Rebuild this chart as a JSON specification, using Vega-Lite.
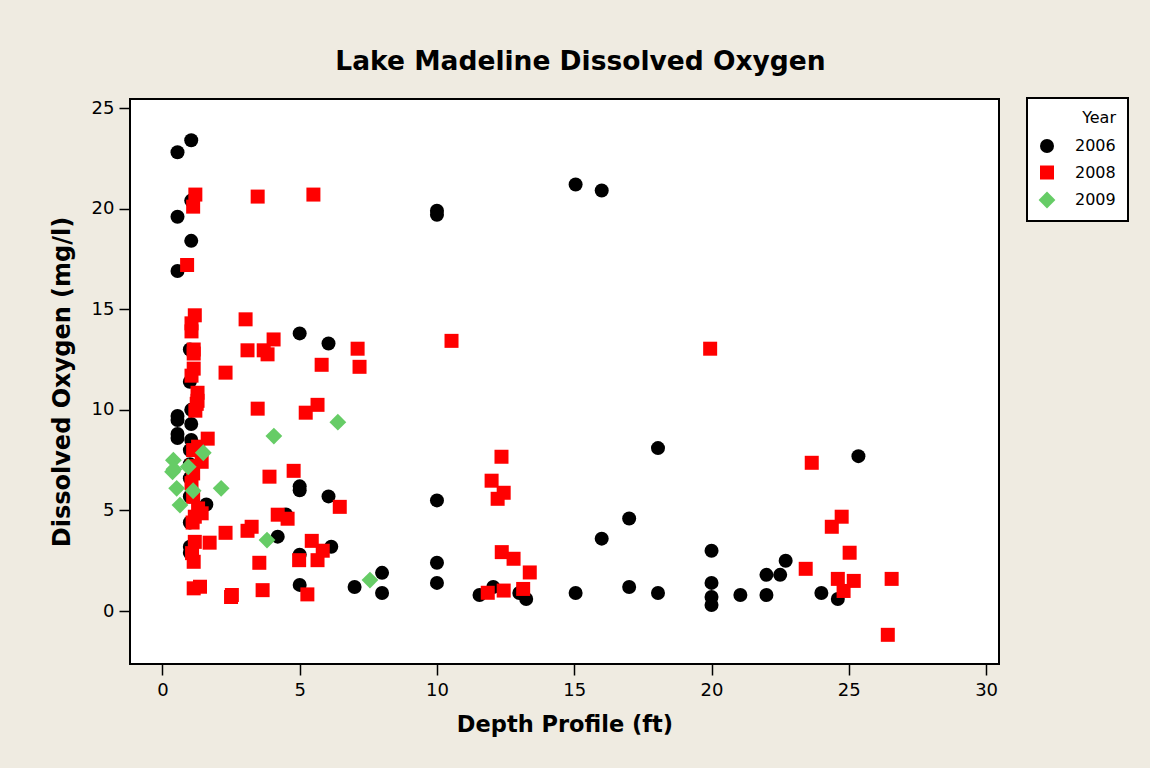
{
  "$schema": "https://vega.github.io/schema/vega-lite/v6.json",
  "autosize": {"type": "none"},
  "padding": {"left": 130, "top": 99, "right": 151, "bottom": 104},
  "width": 869,
  "height": 565,
  "background": "#efebe1",
  "title": {
    "text": "Lake Madeline Dissolved Oxygen",
    "font": "DejaVu Sans",
    "fontSize": 26.5,
    "fontWeight": "bold",
    "color": "black",
    "anchor": "middle",
    "offset": 22,
    "dx": 16
  },
  "data": {
    "values": [
      {"Year": "2006", "Depth": 1.05, "DO": 23.4},
      {"Year": "2006", "Depth": 0.55, "DO": 22.8},
      {"Year": "2006", "Depth": 1.05, "DO": 20.4},
      {"Year": "2006", "Depth": 0.55, "DO": 19.6},
      {"Year": "2006", "Depth": 1.05, "DO": 18.4},
      {"Year": "2006", "Depth": 0.55, "DO": 16.9},
      {"Year": "2006", "Depth": 1.0, "DO": 13.0},
      {"Year": "2006", "Depth": 1.0, "DO": 11.4},
      {"Year": "2006", "Depth": 1.05, "DO": 10.0},
      {"Year": "2006", "Depth": 0.55, "DO": 9.7},
      {"Year": "2006", "Depth": 0.55, "DO": 9.5},
      {"Year": "2006", "Depth": 1.05, "DO": 9.3},
      {"Year": "2006", "Depth": 0.55, "DO": 8.8},
      {"Year": "2006", "Depth": 0.55, "DO": 8.6},
      {"Year": "2006", "Depth": 1.05, "DO": 8.5},
      {"Year": "2006", "Depth": 1.0, "DO": 8.0},
      {"Year": "2006", "Depth": 1.0, "DO": 7.3},
      {"Year": "2006", "Depth": 1.0, "DO": 6.6},
      {"Year": "2006", "Depth": 1.0, "DO": 5.7},
      {"Year": "2006", "Depth": 1.6, "DO": 5.3},
      {"Year": "2006", "Depth": 1.0, "DO": 4.4},
      {"Year": "2006", "Depth": 1.0, "DO": 3.2},
      {"Year": "2006", "Depth": 1.0, "DO": 2.9},
      {"Year": "2006", "Depth": 5.0, "DO": 13.8},
      {"Year": "2006", "Depth": 6.05, "DO": 13.3},
      {"Year": "2006", "Depth": 5.0, "DO": 6.2},
      {"Year": "2006", "Depth": 5.0, "DO": 6.0},
      {"Year": "2006", "Depth": 6.05, "DO": 5.7},
      {"Year": "2006", "Depth": 4.5, "DO": 4.8},
      {"Year": "2006", "Depth": 4.2, "DO": 3.7},
      {"Year": "2006", "Depth": 6.15, "DO": 3.2},
      {"Year": "2006", "Depth": 5.0, "DO": 2.8},
      {"Year": "2006", "Depth": 5.0, "DO": 1.3},
      {"Year": "2006", "Depth": 7.0, "DO": 1.2},
      {"Year": "2006", "Depth": 8.0, "DO": 1.9},
      {"Year": "2006", "Depth": 8.0, "DO": 0.9},
      {"Year": "2006", "Depth": 10.0, "DO": 19.9},
      {"Year": "2006", "Depth": 10.0, "DO": 19.7},
      {"Year": "2006", "Depth": 15.05, "DO": 21.2},
      {"Year": "2006", "Depth": 16.0, "DO": 20.9},
      {"Year": "2006", "Depth": 10.0, "DO": 5.5},
      {"Year": "2006", "Depth": 18.05, "DO": 8.1},
      {"Year": "2006", "Depth": 17.0, "DO": 4.6},
      {"Year": "2006", "Depth": 16.0, "DO": 3.6},
      {"Year": "2006", "Depth": 10.0, "DO": 2.4},
      {"Year": "2006", "Depth": 10.0, "DO": 1.4},
      {"Year": "2006", "Depth": 11.55, "DO": 0.8},
      {"Year": "2006", "Depth": 12.05, "DO": 1.2},
      {"Year": "2006", "Depth": 13.0, "DO": 0.9},
      {"Year": "2006", "Depth": 13.25, "DO": 0.6},
      {"Year": "2006", "Depth": 15.05, "DO": 0.9},
      {"Year": "2006", "Depth": 17.0, "DO": 1.2},
      {"Year": "2006", "Depth": 18.05, "DO": 0.9},
      {"Year": "2006", "Depth": 20.0, "DO": 3.0},
      {"Year": "2006", "Depth": 20.0, "DO": 1.4},
      {"Year": "2006", "Depth": 20.0, "DO": 0.7},
      {"Year": "2006", "Depth": 20.0, "DO": 0.3},
      {"Year": "2006", "Depth": 21.05, "DO": 0.8},
      {"Year": "2006", "Depth": 22.0, "DO": 1.8},
      {"Year": "2006", "Depth": 22.0, "DO": 0.8},
      {"Year": "2006", "Depth": 22.5, "DO": 1.8},
      {"Year": "2006", "Depth": 22.7, "DO": 2.5},
      {"Year": "2006", "Depth": 24.0, "DO": 0.9},
      {"Year": "2006", "Depth": 24.6, "DO": 0.6},
      {"Year": "2006", "Depth": 25.35, "DO": 7.7},
      {"Year": "2008", "Depth": 1.2, "DO": 20.7},
      {"Year": "2008", "Depth": 1.12, "DO": 20.1},
      {"Year": "2008", "Depth": 3.47, "DO": 20.6},
      {"Year": "2008", "Depth": 5.5, "DO": 20.7},
      {"Year": "2008", "Depth": 0.9, "DO": 17.2},
      {"Year": "2008", "Depth": 1.18, "DO": 14.7},
      {"Year": "2008", "Depth": 1.06, "DO": 14.3},
      {"Year": "2008", "Depth": 1.06, "DO": 13.9},
      {"Year": "2008", "Depth": 3.03, "DO": 14.5},
      {"Year": "2008", "Depth": 4.05, "DO": 13.5},
      {"Year": "2008", "Depth": 3.1, "DO": 12.96},
      {"Year": "2008", "Depth": 3.69, "DO": 12.96},
      {"Year": "2008", "Depth": 3.83, "DO": 12.76},
      {"Year": "2008", "Depth": 7.11, "DO": 13.04},
      {"Year": "2008", "Depth": 7.18, "DO": 12.14},
      {"Year": "2008", "Depth": 5.8, "DO": 12.24},
      {"Year": "2008", "Depth": 1.14, "DO": 13.0},
      {"Year": "2008", "Depth": 1.14, "DO": 12.8},
      {"Year": "2008", "Depth": 2.3, "DO": 11.85},
      {"Year": "2008", "Depth": 1.14, "DO": 12.05},
      {"Year": "2008", "Depth": 1.06, "DO": 11.7},
      {"Year": "2008", "Depth": 1.28, "DO": 10.85},
      {"Year": "2008", "Depth": 1.28, "DO": 10.45},
      {"Year": "2008", "Depth": 1.25, "DO": 10.3},
      {"Year": "2008", "Depth": 1.2, "DO": 9.96},
      {"Year": "2008", "Depth": 3.47, "DO": 10.06},
      {"Year": "2008", "Depth": 5.22, "DO": 9.86},
      {"Year": "2008", "Depth": 5.65, "DO": 10.25},
      {"Year": "2008", "Depth": 1.65, "DO": 8.57},
      {"Year": "2008", "Depth": 1.3, "DO": 8.17},
      {"Year": "2008", "Depth": 1.12, "DO": 8.0},
      {"Year": "2008", "Depth": 1.43, "DO": 7.42},
      {"Year": "2008", "Depth": 1.1, "DO": 7.2},
      {"Year": "2008", "Depth": 1.12, "DO": 6.84},
      {"Year": "2008", "Depth": 1.06, "DO": 6.36},
      {"Year": "2008", "Depth": 1.12, "DO": 5.68},
      {"Year": "2008", "Depth": 1.3, "DO": 5.1},
      {"Year": "2008", "Depth": 1.43, "DO": 4.86},
      {"Year": "2008", "Depth": 1.18, "DO": 4.69},
      {"Year": "2008", "Depth": 1.1, "DO": 4.4},
      {"Year": "2008", "Depth": 1.18, "DO": 3.44},
      {"Year": "2008", "Depth": 1.08, "DO": 2.88},
      {"Year": "2008", "Depth": 1.14, "DO": 2.45},
      {"Year": "2008", "Depth": 1.37, "DO": 1.21},
      {"Year": "2008", "Depth": 1.14, "DO": 1.13},
      {"Year": "2008", "Depth": 3.9, "DO": 6.68},
      {"Year": "2008", "Depth": 4.78, "DO": 6.97},
      {"Year": "2008", "Depth": 6.46, "DO": 5.18},
      {"Year": "2008", "Depth": 4.2, "DO": 4.79},
      {"Year": "2008", "Depth": 4.56, "DO": 4.59},
      {"Year": "2008", "Depth": 3.25, "DO": 4.19},
      {"Year": "2008", "Depth": 3.1, "DO": 3.99},
      {"Year": "2008", "Depth": 2.3, "DO": 3.89},
      {"Year": "2008", "Depth": 1.72, "DO": 3.4},
      {"Year": "2008", "Depth": 5.44, "DO": 3.49},
      {"Year": "2008", "Depth": 5.84, "DO": 3.0},
      {"Year": "2008", "Depth": 3.53, "DO": 2.4},
      {"Year": "2008", "Depth": 4.98, "DO": 2.53},
      {"Year": "2008", "Depth": 5.65, "DO": 2.53},
      {"Year": "2008", "Depth": 3.65, "DO": 1.04},
      {"Year": "2008", "Depth": 5.28, "DO": 0.83},
      {"Year": "2008", "Depth": 2.53, "DO": 0.8},
      {"Year": "2008", "Depth": 2.5, "DO": 0.7},
      {"Year": "2008", "Depth": 10.53, "DO": 13.43},
      {"Year": "2008", "Depth": 19.95, "DO": 13.04},
      {"Year": "2008", "Depth": 12.35, "DO": 7.67},
      {"Year": "2008", "Depth": 11.99, "DO": 6.48},
      {"Year": "2008", "Depth": 12.43, "DO": 5.88},
      {"Year": "2008", "Depth": 12.21, "DO": 5.58},
      {"Year": "2008", "Depth": 12.36, "DO": 2.93},
      {"Year": "2008", "Depth": 12.79, "DO": 2.6},
      {"Year": "2008", "Depth": 13.38, "DO": 1.92},
      {"Year": "2008", "Depth": 13.14, "DO": 1.1},
      {"Year": "2008", "Depth": 12.43, "DO": 1.02},
      {"Year": "2008", "Depth": 11.85, "DO": 0.91},
      {"Year": "2008", "Depth": 23.65, "DO": 7.37},
      {"Year": "2008", "Depth": 24.74, "DO": 4.69},
      {"Year": "2008", "Depth": 24.38, "DO": 4.19},
      {"Year": "2008", "Depth": 25.03, "DO": 2.9},
      {"Year": "2008", "Depth": 23.43, "DO": 2.1},
      {"Year": "2008", "Depth": 24.6, "DO": 1.6},
      {"Year": "2008", "Depth": 25.18, "DO": 1.5},
      {"Year": "2008", "Depth": 26.56, "DO": 1.6},
      {"Year": "2008", "Depth": 24.81, "DO": 1.0},
      {"Year": "2008", "Depth": 26.42, "DO": -1.18},
      {"Year": "2009", "Depth": 0.4, "DO": 7.5},
      {"Year": "2009", "Depth": 0.37, "DO": 6.92},
      {"Year": "2009", "Depth": 0.42, "DO": 7.05},
      {"Year": "2009", "Depth": 0.94, "DO": 7.17},
      {"Year": "2009", "Depth": 1.49, "DO": 7.87},
      {"Year": "2009", "Depth": 0.52, "DO": 6.1},
      {"Year": "2009", "Depth": 1.12, "DO": 5.98},
      {"Year": "2009", "Depth": 0.64, "DO": 5.27},
      {"Year": "2009", "Depth": 2.14, "DO": 6.1},
      {"Year": "2009", "Depth": 4.06, "DO": 8.7},
      {"Year": "2009", "Depth": 6.39, "DO": 9.39},
      {"Year": "2009", "Depth": 3.81, "DO": 3.53},
      {"Year": "2009", "Depth": 7.56, "DO": 1.54}
    ]
  },
  "mark": {"type": "point", "filled": true, "opacity": 1, "size": 196, "strokeWidth": 0},
  "encoding": {
    "x": {
      "field": "Depth",
      "type": "quantitative",
      "title": "Depth Profile (ft)",
      "scale": {"domain": [-1.18, 30.47], "nice": false, "zero": false},
      "axis": {"values": [0, 5, 10, 15, 20, 25, 30], "titleFontSize": 22.5, "titlePadding": 14, "labelPadding": 6}
    },
    "y": {
      "field": "DO",
      "type": "quantitative",
      "title": "Dissolved Oxygen (mg/l)",
      "scale": {"domain": [-2.63, 25.45], "nice": false, "zero": false},
      "axis": {"values": [0, 5, 10, 15, 20, 25], "titleFontSize": 24, "titlePadding": 17, "labelPadding": 5}
    },
    "color": {
      "field": "Year",
      "type": "nominal",
      "scale": {"domain": ["2006", "2008", "2009"], "range": ["#000000", "#ff0000", "#66cc66"]},
      "legend": {
        "orient": "none",
        "legendX": 897,
        "legendY": -1,
        "title": "Year",
        "titleAnchor": "end"
      }
    },
    "shape": {
      "field": "Year",
      "type": "nominal",
      "scale": {"domain": ["2006", "2008", "2009"], "range": ["circle", "square", "M-1.2,0L0,-1.2L1.2,0L0,1.2Z"]},
      "legend": {
        "orient": "none",
        "legendX": 897,
        "legendY": -1,
        "title": "Year",
        "titleAnchor": "end"
      }
    }
  },
  "config": {
    "font": "DejaVu Sans",
    "view": {"fill": "white", "stroke": "black", "strokeWidth": 2},
    "axis": {
      "domain": false,
      "grid": false,
      "ticks": true,
      "tickColor": "black",
      "tickSize": 11,
      "tickWidth": 1.5,
      "labelFont": "DejaVu Sans",
      "labelFontSize": 18,
      "labelColor": "black",
      "titleFont": "DejaVu Sans",
      "titleFontWeight": "bold",
      "titleColor": "black"
    },
    "legend": {
      "fillColor": "white",
      "strokeColor": "black",
      "strokeWidth": 2,
      "padding": 12,
      "titleFont": "DejaVu Sans",
      "titleFontSize": 16,
      "titleFontWeight": "normal",
      "titleColor": "black",
      "titlePadding": 12,
      "labelFont": "DejaVu Sans",
      "labelFontSize": 16,
      "labelColor": "black",
      "labelOffset": 20,
      "rowPadding": 10.5,
      "symbolSize": 196,
      "symbolStrokeWidth": 0
    }
  }
}
